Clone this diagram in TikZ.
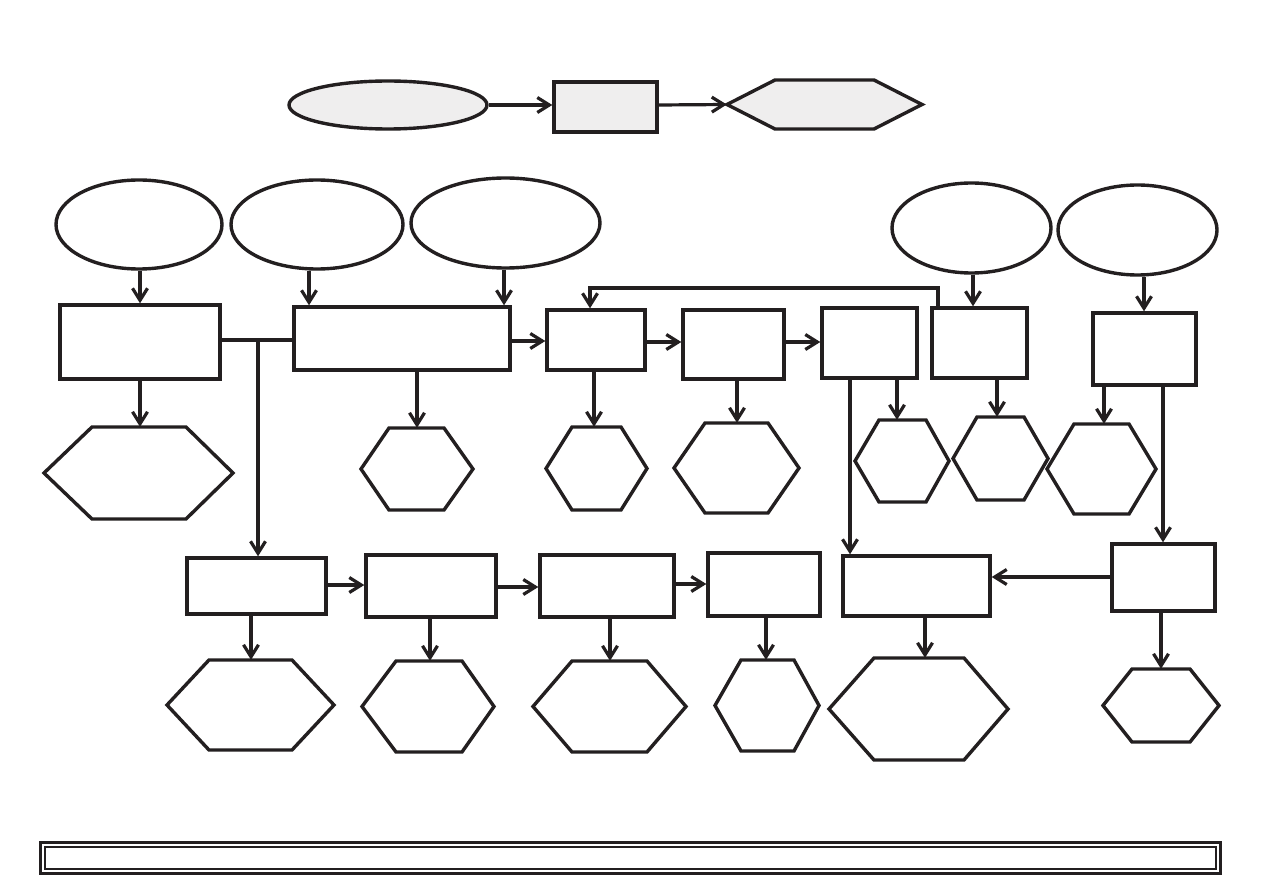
\documentclass[tikz,border=0pt]{standalone}
\usetikzlibrary{arrows.meta,shapes.geometric,fit}
\definecolor{ink}{HTML}{231F20}
\definecolor{pale}{HTML}{EFEEEE}
\tikzset{
  shapeline/.style={draw=ink, line width=3.4pt},
  box/.style={shapeline, rectangle, inner sep=0pt, fill=white},
  oval/.style={shapeline, ellipse, inner sep=0pt, fill=white},
  hexframe/.style={inner sep=0pt, draw=none},
  hexline/.style={shapeline, line join=miter},
  conn/.style={draw=ink, line width=3.2pt},
  arr/.style={conn, -{Straight Barb[length=12pt,width=15pt,line width=3.2pt]}},
}
\newcommand\bx[6][]{\node[box,#1, minimum width={(#4-#2)*1pt}, minimum height={(#5-#3)*1pt}] (#6) at ({(#2+#4)/2},{(#3+#5)/2}) {};}
\newcommand\ov[6][]{\node[oval,#1, minimum width={(#4-#2)*1pt}, minimum height={(#5-#3)*1pt}] (#6) at ({(#2+#4)/2},{(#3+#5)/2}) {};}
% \hx[fill]{xl}{xtl}{xtr}{xr}{yt}{yb}{name}
\newcommand\hx[8][white]{%
  \node[hexframe, fit={(#2,#6)(#5,#7)}] (#8) {};
  \draw[hexline, fill=#1] (#2,{(#6+#7)/2}) -- (#3,#6) -- (#4,#6) -- (#5,{(#6+#7)/2}) -- (#4,#7) -- (#3,#7) -- cycle;}
\begin{document}
\begin{tikzpicture}[x=1pt,y=-1pt]
\useasboundingbox (0,0) rectangle (1263,893);
\fill[white] (0,0) rectangle (1263,893);

% legend row
\ov[fill=pale]{289}{81}{487}{129}{el0}
\bx[fill=pale]{554}{82}{657}{132}{r0}
\hx[pale]{727}{775}{874}{922}{80}{129}{h0}
\draw[arr] (el0.east |- 0,105) -- (r0.west |- 0,105);
\draw[arr] (r0.east |- 0,105) -- (h0.west);

% top ellipses
\ov{56}{180}{222}{269}{e1}
\ov{231}{180}{403}{269}{e2}
\ov{411}{178}{600}{268}{e3}
\ov{892}{183}{1051}{273}{e4}
\ov{1058}{185}{1217}{275}{e5}

% upper boxes
\bx{60}{305}{220}{379}{b1}
\bx{294}{307}{510}{370}{b2}
\bx{547}{310}{645}{370}{b3}
\bx{683}{310}{784}{379}{b4}
\bx{822}{308}{917}{378}{b5}
\bx{932}{308}{1027}{378}{b6}
\bx{1093}{313}{1196}{385}{b7}

% upper hexagons
\hx{44}{92}{186}{233}{427}{519}{h1}
\hx{361}{389}{444}{473}{428}{510}{h2}
\hx{546}{572}{621}{647}{427}{510}{h3}
\hx{674}{705}{768}{799}{423}{513}{h4}
\hx{855}{879}{926}{949}{420}{502}{h5}
\hx{953}{977}{1024}{1048}{417}{500}{h6}
\hx{1047}{1074}{1129}{1156}{424}{514}{h7}

% lower boxes
\bx{187}{558}{326}{614}{c1}
\bx{366}{555}{496}{617}{c2}
\bx{540}{555}{674}{617}{c3}
\bx{708}{553}{820}{616}{c4}
\bx{843}{556}{990}{616}{c5}
\bx{1112}{544}{1215}{611}{c6}

% lower hexagons
\hx{167}{209}{292}{334}{660}{750}{g1}
\hx{362}{396}{462}{494}{661}{752}{g2}
\hx{533}{572}{647}{686}{661}{752}{g3}
\hx{715}{741}{794}{819}{660}{751}{g4}
\hx{829}{874}{964}{1008}{658}{760}{g5}
\hx{1103}{1132}{1190}{1219}{669}{742}{g6}

% ellipses to boxes
\draw[arr] (e1.south -| 140,0) -- (b1.north -| 140,0);
\draw[arr] (e2.south -| 309,0) -- (b2.north -| 309,0);
\draw[arr] (e3.south -| 504,0) -- (b2.north -| 504,0);
\draw[arr] (e4.south -| 973,0) -- (b6.north -| 973,0);
\draw[arr] (e5.south -| 1144,0) -- (b7.north -| 1144,0);

% upper chain
\coordinate (j1) at (258,340);
\draw[conn] (b1.east |- j1) -- (b2.west |- j1);
\draw[arr] (j1) -- (c1.north -| j1);
\draw[arr] (b2.east |- 0,341) -- (b3.west |- 0,341);
\draw[arr] (b3.east |- 0,342) -- (b4.west |- 0,342);
\draw[arr] (b4.east |- 0,342) -- (b5.west |- 0,342);
\coordinate (fb) at (938,288);
\draw[arr] (b6.north -| fb) -- (fb) -| (b3.north -| 590,0);

% boxes to upper hexagons
\draw[arr] (b1.south -| 140,0) -- (h1.north -| 140,0);
\draw[arr] (b2.south -| 417,0) -- (h2.north -| 417,0);
\draw[arr] (b3.south -| 594,0) -- (h3.north -| 594,0);
\draw[arr] (b4.south -| 737,0) -- (h4.north -| 737,0);
\draw[arr] (b5.south -| 897,0) -- (h5.north -| 897,0);
\draw[arr] (b6.south -| 997,0) -- (h6.north -| 997,0);
\draw[arr] (b7.south -| 1104,0) -- (h7.north -| 1104,0);

% long drops
\draw[arr] (b5.south -| 850,0) -- (c5.north -| 850,0);
\draw[arr] (b7.south -| 1163,0) -- (c6.north -| 1163,0);

% lower chain
\draw[arr] (c1.east |- 0,585) -- (c2.west |- 0,585);
\draw[arr] (c2.east |- 0,587) -- (c3.west |- 0,587);
\draw[arr] (c3.east |- 0,584) -- (c4.west |- 0,584);
\draw[arr] (c6.west |- 0,577) -- (c5.east |- 0,577);

% lower boxes to hexagons
\draw[arr] (c1.south -| 251,0) -- (g1.north -| 251,0);
\draw[arr] (c2.south -| 430,0) -- (g2.north -| 430,0);
\draw[arr] (c3.south -| 610,0) -- (g3.north -| 610,0);
\draw[arr] (c4.south -| 766,0) -- (g4.north -| 766,0);
\draw[arr] (c5.south -| 925,0) -- (g5.north -| 925,0);
\draw[arr] (c6.south -| 1161,0) -- (g6.north -| 1161,0);

% footer frame
\node[draw=ink, line width=3.6pt, inner sep=0pt, minimum width=1180pt, minimum height=31pt] (foot) at (630.5,858) {};
\node[draw=ink, line width=1.4pt, inner sep=0pt, minimum width=1171pt, minimum height=22pt] (footin) at (foot.center) {};
\end{tikzpicture}
\end{document}
